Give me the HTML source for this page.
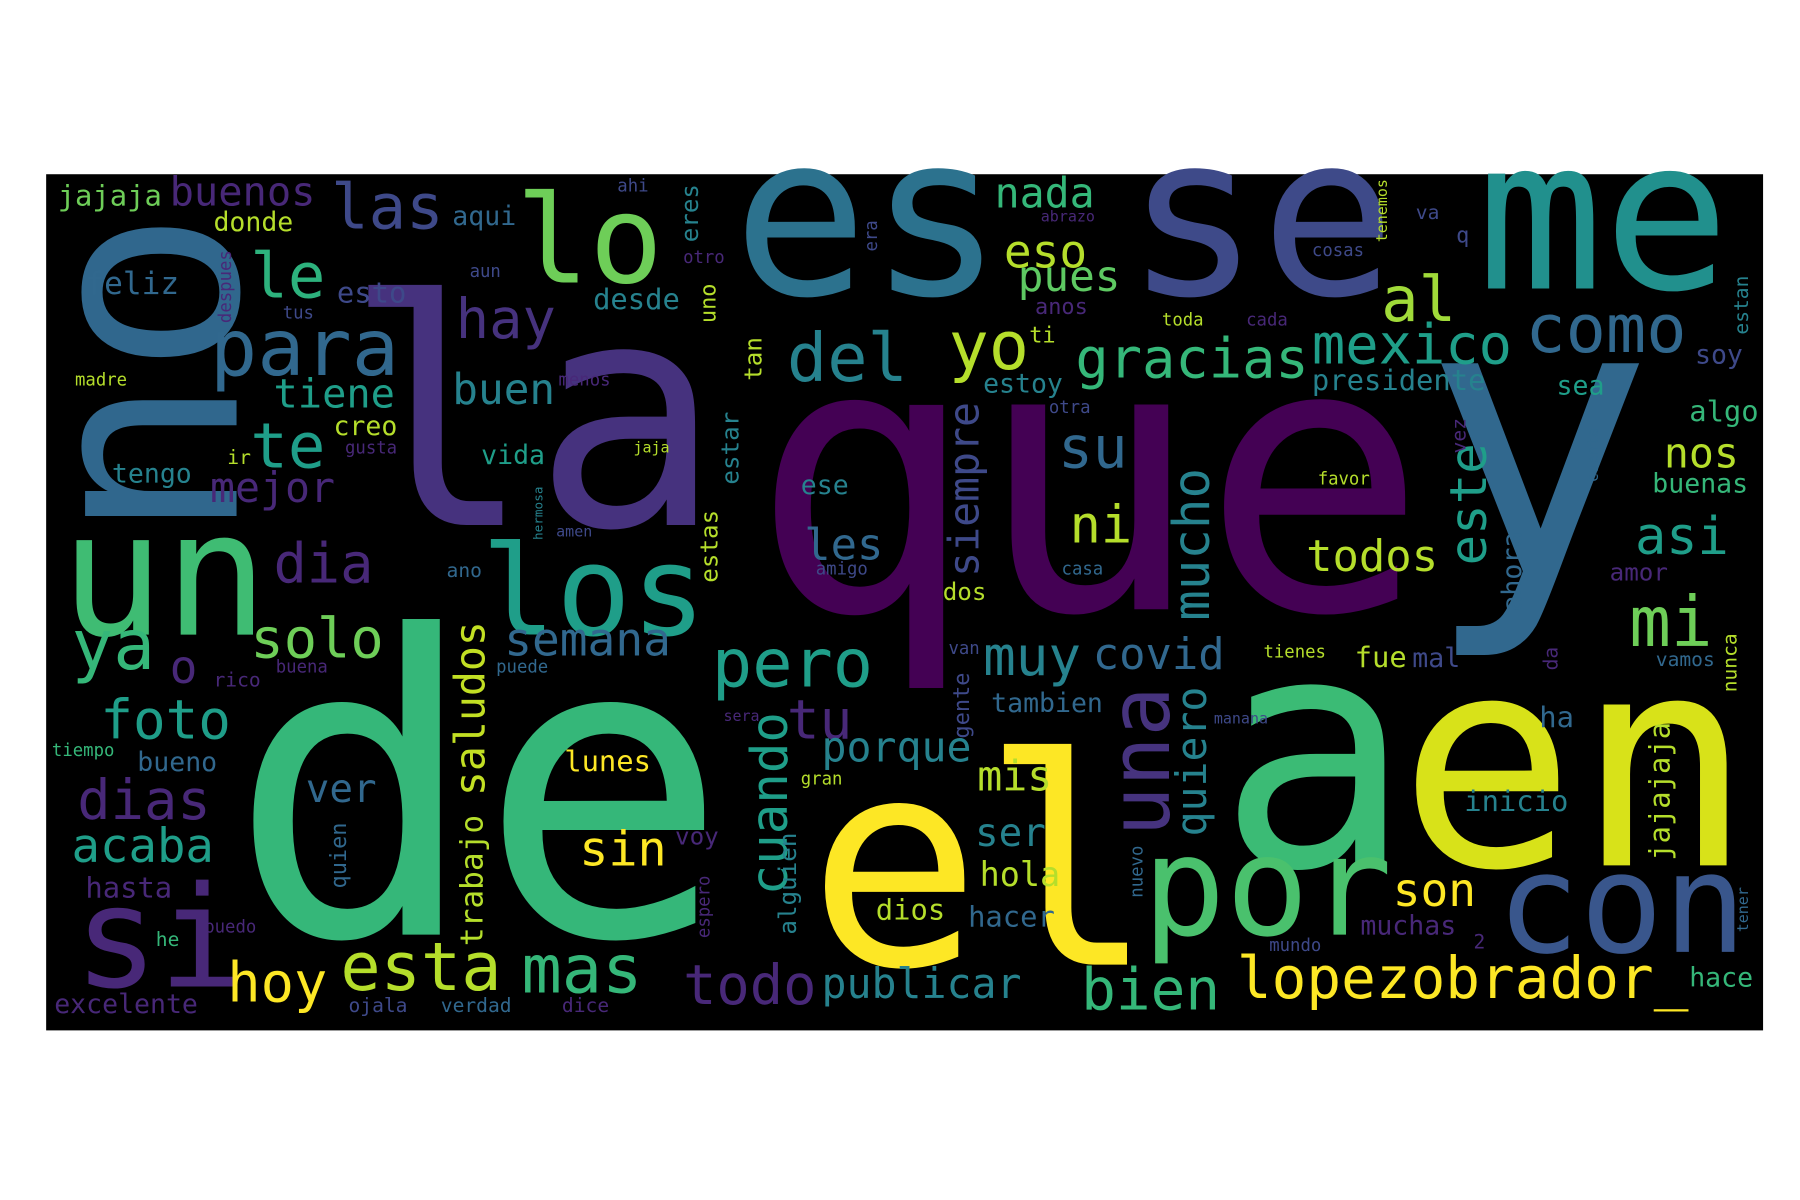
<!DOCTYPE html>
<html><head><meta charset="utf-8"><style>
html,body{margin:0;padding:0;background:#fff;width:1800px;height:1200px;overflow:hidden}
svg{display:block}
text{font-family:"DejaVu Sans Mono","Liberation Mono",monospace}
</style></head><body>
<svg id="wc" width="1800" height="1200" viewBox="0 0 1560 1040" xmlns="http://www.w3.org/2000/svg">
<rect x="40" y="151" width="1488" height="742" fill="#000"/>
<g id="words"></g>
</svg>
<script>
// word, size, x, y, color, rotated(1 = vertical)
const words = [
["que",325,650,528,"#440154",0],["y",335,1232,498,"#31688e",0],["la",272,298,455,"#46327e",0],
["de",360,198,810,"#35b779",0],["el",250,700,836,"#fde725",0],["a",280,1055,750,"#3bbb75",0],
["en",255,1212,750,"#d8e219",0],["no",240,205,470,"#30678d",1],["es",195,635,255,"#2c728e",0],
["se",195,975,255,"#3e4a89",0],["me",182,1280,250,"#21908d",0],["lo",106,447,245,"#6ece58",0],
["un",150,52,550,"#3fbc73",0],["los",108,417,550,"#1f9e89",0],["si",122,64,855,"#482878",0],
["por",120,990,810,"#4ac16d",0],["con",120,1297,825,"#39568c",0],["una",72,1013,725,"#46337e",1],
["para",68,182,325,"#31688e",0],["las",54,287,198,"#3e4989",0],["le",54,217,258,"#2db27d",0],
["te",54,217,405,"#1f9e89",0],["hay",48,395,293,"#46327e",0],["del",58,682,330,"#26828e",0],
["yo",58,822,320,"#b5de2b",0],["gracias",48,932,327,"#35b779",0],["mexico",48,1137,315,"#1f9e89",0],
["como",58,1322,305,"#31688e",0],["al",54,1197,278,"#a0da39",0],["eso",40,870,232,"#b5de2b",0],
["pues",37,882,252,"#5ec962",0],["nada",36,862,180,"#35b779",0],["su",50,917,405,"#31688e",0],
["ni",45,927,470,"#b5de2b",0],["mucho",44,1048,538,"#26828e",1],["siempre",36,848,500,"#3e4989",1],
["dia",48,237,505,"#482878",0],["solo",48,217,570,"#6ece58",0],["semana",40,437,568,"#31688e",0],
["ya",60,62,580,"#35b779",0],["o",40,147,592,"#482878",0],["foto",47,87,640,"#1f9e89",0],
["pero",58,617,595,"#1f9e89",0],["tu",47,682,640,"#482878",0],["muy",47,852,585,"#26828e",0],
["covid",38,947,580,"#31688e",0],["mi",60,1412,560,"#6ece58",0],["asi",45,1417,480,"#1f9e89",0],
["nos",36,1442,405,"#b5de2b",0],["este",44,1288,490,"#1f9e89",1],["todos",38,1132,495,"#b5de2b",0],
["les",38,697,485,"#31688e",0],["mejor",36,182,435,"#482878",0],["buen",37,392,350,"#26828e",0],
["tiene",35,237,353,"#1f9e89",0],["buenos",35,147,178,"#482878",0],["jajaja",25,50,178,"#6ece58",0],
["donde",23,185,200,"#b5de2b",0],["aqui",23,392,195,"#31688e",0],["feliz",27,74,255,"#31688e",0],
["esto",25,292,262,"#3e4989",0],["desde",25,514,268,"#26828e",0],["presidente",25,1137,338,"#26828e",0],
["estoy",23,852,340,"#26828e",0],["creo",23,289,377,"#b5de2b",0],["vida",23,417,402,"#1f9e89",0],
["tengo",23,97,418,"#26828e",0],["porque",36,712,660,"#26828e",0],["mis",36,847,685,"#b5de2b",0],
["ver",34,265,695,"#31688e",0],["dias",48,67,710,"#482878",0],["acaba",41,62,747,"#1f9e89",0],
["hasta",25,74,778,"#482878",0],["saludos",36,420,690,"#c2df23",1],["trabajo",27,418,820,"#b5de2b",1],
["cuando",44,682,776,"#1f9e89",1],["quiero",36,1045,725,"#26828e",1],["sin",42,502,750,"#fde725",0],
["ser",34,845,733,"#26828e",0],["hola",29,849,768,"#b5de2b",0],["son",40,1207,785,"#fde725",0],
["dios",25,759,797,"#b5de2b",0],["hacer",25,839,803,"#31688e",0],["muchas",23,1179,810,"#482878",0],
["hoy",48,197,868,"#fde725",0],["esta",58,295,858,"#b5de2b",0],["mas",58,452,860,"#35b779",0],
["todo",48,592,870,"#482878",0],["publicar",36,712,865,"#26828e",0],["bien",50,937,875,"#35b779",0],
["lopezobrador_",50,1072,865,"#fde725",0],["hace",23,1464,855,"#35b779",0],["excelente",23,47,878,"#482878",0],
["lunes",25,489,668,"#fde725",0],["jajajaja",25,1447,746,"#b5de2b",1],["inicio",25,1269,703,"#26828e",0],
["tambien",23,859,617,"#31688e",0],["fue",25,1174,578,"#b5de2b",0],["mal",23,1224,578,"#3e4989",0],
["buenas",23,1432,427,"#35b779",0],["algo",25,1464,365,"#35b779",0],["sea",23,1349,342,"#1f9e89",0],
["soy",23,1469,315,"#3e4989",0],["amor",21,1395,503,"#482878",0],["ahora",23,1318,530,"#31688e",1],
["ese",23,694,428,"#26828e",0],["bueno",23,119,668,"#31688e",0],["tiempo",15,45,655,"#35b779",0],
["ha",25,1334,630,"#31688e",0],["dos",21,817,520,"#b5de2b",0],["anos",19,897,272,"#482878",0],
["eres",21,605,210,"#26828e",1],["ti",19,892,297,"#b5de2b",0],["tan",21,660,330,"#b5de2b",1],
["uno",19,620,280,"#b5de2b",1],["estar",21,640,420,"#26828e",1],["estas",21,622,505,"#b5de2b",1],
["alguien",21,690,810,"#26828e",1],["quien",19,300,770,"#31688e",1],["voy",21,585,732,"#482878",0],
["nunca",17,1505,600,"#b5de2b",1],["estan",17,1515,290,"#26828e",1],["gente",19,840,640,"#3e4989",1],
["rico",17,185,595,"#482878",0],["ano",17,387,500,"#31688e",0],["vamos",17,1435,577,"#31688e",0],
["da",17,1350,581,"#482878",1],["va",17,1227,190,"#3e4989",0],["otro",15,592,228,"#482878",0],
["cosas",15,1137,222,"#3e4989",0],["toda",15,1007,282,"#b5de2b",0],["cada",15,1080,282,"#482878",0],
["tienes",15,1095,570,"#b5de2b",0],["amigo",15,707,498,"#3e4989",0],["casa",15,920,498,"#31688e",0],
["gusta",15,299,393,"#482878",0],["tus",15,245,276,"#3e4989",0],["ir",17,197,402,"#b5de2b",0],
["madre",15,65,334,"#b5de2b",0],["menos",15,484,334,"#482878",0],["puedo",15,177,808,"#482878",0],
["he",17,135,820,"#35b779",0],["ojala",17,302,877,"#3e4989",0],["verdad",17,382,877,"#31688e",0],
["dice",17,487,877,"#482878",0],["mundo",15,1100,824,"#3e4989",0],["favor",15,1142,420,"#b5de2b",0],
["despues",15,200,280,"#482878",1],["abrazo",13,902,192,"#482878",0],["ahi",15,535,166,"#3e4989",0],
["aun",15,407,240,"#3e4989",0],["era",15,760,218,"#3e4989",1],["puede",15,430,583,"#31688e",0],
["buena",15,239,583,"#482878",0],["manana",13,1052,627,"#3e4989",0],["espero",15,615,813,"#482878",1],
["nuevo",15,990,778,"#31688e",1],["gran",15,694,680,"#b5de2b",0],["sera",13,627,625,"#482878",0],
["amen",13,482,465,"#3e4989",0],["jaja",13,549,392,"#b5de2b",0],["otra",15,909,358,"#3e4989",0],
["vez",17,1270,393,"#482878",1],["q",19,1262,210,"#3e4989",0],["2",17,1277,822,"#482878",0],
["tener",13,1515,808,"#31688e",1],["cuenta",13,1385,418,"#31688e",1],["tenemos",13,1202,210,"#b5de2b",1],
["hermosa",11,470,468,"#26828e",1],["van",15,822,567,"#3e4989",0]
];
const NS = "http://www.w3.org/2000/svg";
const g = document.getElementById("words");
for (const w of words) {
  const t = document.createElementNS(NS, "text");
  t.setAttribute("font-size", w[1]);
  t.setAttribute("fill", w[4]);
  if (w[5]) {
    t.setAttribute("transform", "translate(" + w[2] + "," + w[3] + ") rotate(-90)");
  } else {
    t.setAttribute("x", w[2]);
    t.setAttribute("y", w[3]);
  }
  t.textContent = w[0];
  
  
  g.appendChild(t);
}
</script>
</body></html>
